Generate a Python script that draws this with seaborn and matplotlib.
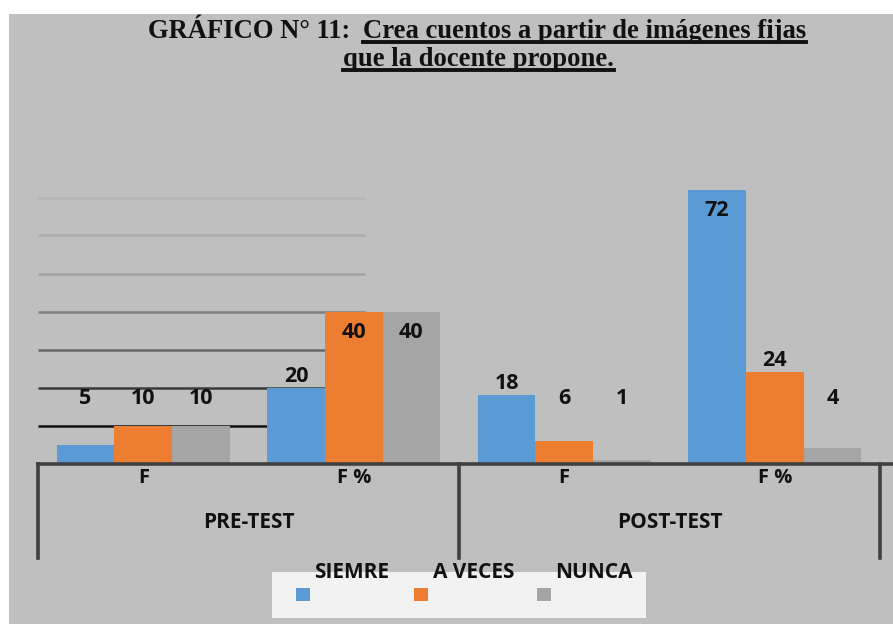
import matplotlib
matplotlib.use("Agg")
import matplotlib.pyplot as plt
import seaborn as sns
import pandas as pd
from matplotlib.patches import Rectangle
from matplotlib.lines import Line2D

# ---------------- data ----------------
groups = ["PRE-TEST", "POST-TEST"]
sub_labels = ["F", "F %", "F", "F %"]
categories = ["PRE-TEST F", "PRE-TEST F %", "POST-TEST F", "POST-TEST F %"]
series = ["SIEMRE", "A VECES", "NUNCA"]
siempre = [5, 20, 18, 72]
a_veces = [10, 40, 6, 24]
nunca = [10, 40, 1, 4]
grid_values = [10, 20, 30, 40, 50, 60, 70]
grid_colors = ["#111111", "#3a3a3a", "#666666", "#808080", "#a3a3a3", "#adadad", "#b6b6b6"]
colors = ["#5b9bd5", "#ed7d31", "#a5a5a5"]
title_a = "GRÁFICO N° 11: "
title_b = "Crea cuentos a partir de imágenes fijas"
title_c = "que la docente propone."

values = [siempre, a_veces, nunca]
rows = []
for s, vals in zip(series, values):
    for c, v in zip(categories, vals):
        rows.append({"categoria": c, "serie": s, "valor": v})
df = pd.DataFrame(rows)

W, H = 893, 624
fig = plt.figure(figsize=(W / 100, H / 100), dpi=100)
fig.patch.set_facecolor("white")

def fx(px):
    return px / W

def fy(py):
    return 1 - py / H

fig.patches.append(Rectangle((fx(9), 0), 1 - fx(9), fy(14), transform=fig.transFigure,
                             facecolor="#bfbfbf", edgecolor="none", zorder=-5))

SANS = ["Liberation Sans Narrow", "Open Sans", "DejaVu Sans"]
SERIF = ["Liberation Serif", "DejaVu Serif"]

PXU = 3.8          # px per unit
BASE = 463.5       # baseline px
YMAX = 80
ax = fig.add_axes([fx(38), fy(BASE), fx(880) - fx(38), YMAX * PXU / H])
ax.set_facecolor("none")
ax.set_zorder(5)

# gridline remnants (behind bars)
for gv, gc in zip(grid_values, grid_colors):
    ax.hlines(gv, -0.5, 1.053, colors=gc, linewidth=1.8, zorder=1)

sns.barplot(data=df, x="categoria", y="valor", hue="serie", order=categories,
            hue_order=series, palette=colors, width=0.822, gap=0, saturation=1,
            legend=False, ax=ax, zorder=3, errorbar=None)
ax.set_xlim(-0.5, 3.5)
ax.set_ylim(0, YMAX)
ax.axis("off")

def label_y(v):
    if v >= 35:
        return v - 5.5
    if v >= 15:
        return v + 3
    return 17.2

for cont, vals in zip(ax.containers, values):
    for bar, v in zip(cont, vals):
        xc = bar.get_x() + bar.get_width() / 2
        ax.text(xc, label_y(v), str(v), ha="center", va="center", fontsize=15.5,
                fontweight="bold", family=SANS, color="#111111", zorder=6)

# category axis
axis_col = "#404040"
ax.add_line(Line2D([-0.5, 3.56], [0, 0], color=axis_col, lw=2.6, clip_on=False, zorder=5))
ybot = -(558 - BASE) / PXU
for xv in [-0.5, 1.5, 3.5]:
    ax.add_line(Line2D([xv, xv], [0, ybot], color=axis_col, lw=2.6, clip_on=False, zorder=5))
for i, lab in enumerate(sub_labels):
    ax.text(i, -(478 - BASE) / PXU, lab, ha="center", va="center", fontsize=14.5,
            fontweight="bold", family=SANS, color="#111111", clip_on=False)
for i, g in enumerate(groups):
    ax.text(2 * i + 0.5, -(523 - BASE) / PXU, g, ha="center", va="center", fontsize=15,
            fontweight="bold", family=SANS, color="#111111", clip_on=False)

# legend (manual layout as in reference)
fig.patches.append(Rectangle((fx(272), fy(618)), fx(646) - fx(272), fy(572) - fy(618),
                             transform=fig.transFigure, facecolor="#f2f2f2",
                             edgecolor="none", zorder=1))
leg_marker_x = [296, 414, 537]
leg_text_x = [352, 474, 594]
for s, c, mx, tx in zip(series, colors, leg_marker_x, leg_text_x):
    fig.patches.append(Rectangle((fx(mx), fy(601)), fx(14), 13 / H,
                                 transform=fig.transFigure, facecolor=c,
                                 edgecolor="none", zorder=2))
    fig.text(fx(tx), fy(572), s, ha="center", va="center", fontsize=15,
             fontweight="bold", family=SANS, color="#111111", zorder=3)

# title with underlined part
TS = 19.2
t1 = fig.text(fx(357), fy(38), title_a, ha="right", va="baseline", fontsize=TS,
              fontweight="bold", family=SERIF, color="#111111")
t2 = fig.text(fx(363), fy(38), title_b, ha="left", va="baseline", fontsize=TS,
              fontweight="bold", family=SERIF, color="#111111")
t3 = fig.text(fx(478.5), fy(66), title_c, ha="center", va="baseline", fontsize=TS,
              fontweight="bold", family=SERIF, color="#111111")
fig.canvas.draw()
r = fig.canvas.get_renderer()
for t, uy in [(t2, 42), (t3, 70)]:
    bb = t.get_window_extent(r)
    fig.lines.append(Line2D([bb.x0 / W, bb.x1 / W], [fy(uy), fy(uy)], transform=fig.transFigure,
                            color="#111111", lw=2.8))

fig.savefig("out.png", dpi=100, facecolor=fig.get_facecolor())
